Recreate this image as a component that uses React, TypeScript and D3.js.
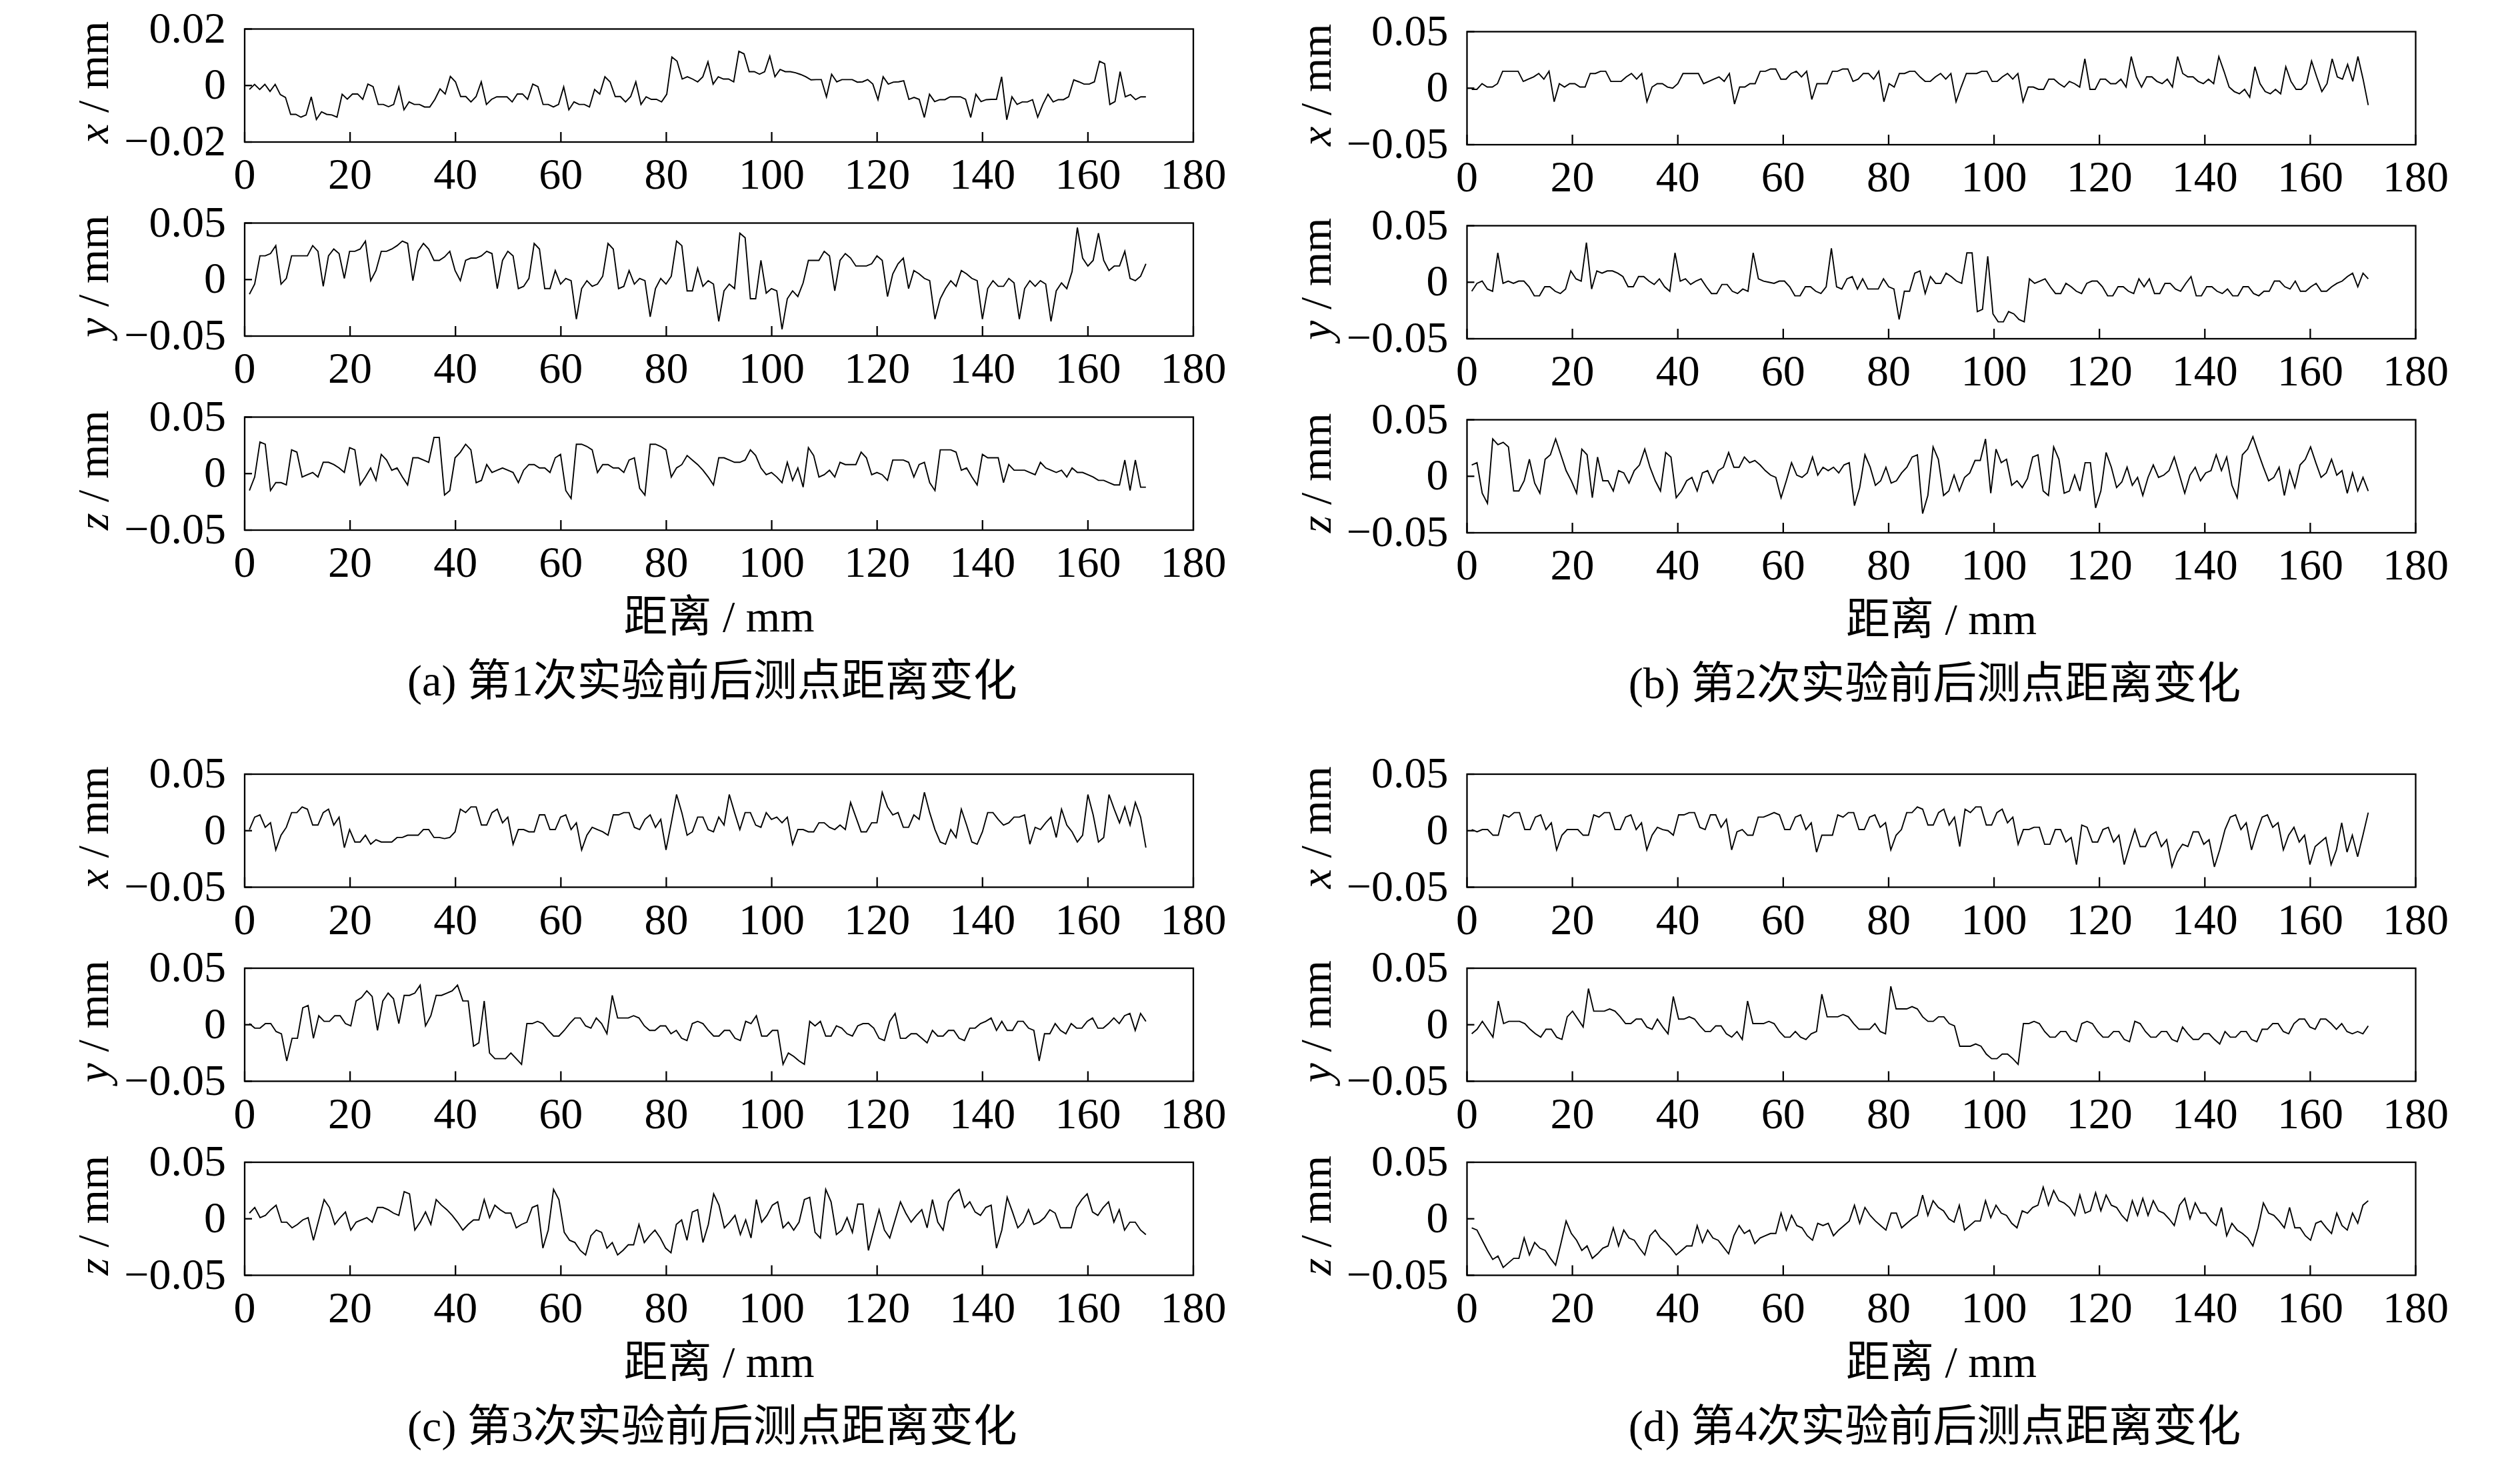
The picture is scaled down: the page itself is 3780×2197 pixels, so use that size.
import React from 'react';
import * as d3 from 'd3';

// sample positions run evenly from the first to the last measuring point (mm)
const sampleStart = 0.9;
const sampleEnd = 171;

const xTicks = [0, 20, 40, 60, 80, 100, 120, 140, 160, 180];
const yTicksNarrow = [-0.02, 0, 0.02];
const yTicksWide = [-0.05, 0, 0.05];
const axisLetters = ['x', 'y', 'z'];
const xAxisTitle = '距离 / mm';
const captions = [
  '(a) 第1次实验前后测点距离变化',
  '(b) 第2次实验前后测点距离变化',
  '(c) 第3次实验前后测点距离变化',
  '(d) 第4次实验前后测点距离变化',
];

// test 1
const test1X = [
  -0.0014, 0.0004, -0.0014, 0.0004, -0.0021, 0.0004, -0.0032, -0.0042, -0.0102, -0.0102,
  -0.0112, -0.0104, -0.0040, -0.0120, -0.0093, -0.0102, -0.0104, -0.0112, -0.0031, -0.0048,
  -0.0030, -0.0030, -0.0049, 0.0005, -0.0004, -0.0067, -0.0067, -0.0075, -0.0067, -0.0005,
  -0.0086, -0.0058, -0.0067, -0.0067, -0.0076, -0.0076, -0.0049, -0.0012, -0.0030, 0.0032,
  0.0013, -0.0039, -0.0039, -0.0058, -0.0039, 0.0013, -0.0067, -0.0049, -0.0040, -0.0040,
  -0.0040, -0.0058, -0.0030, -0.0030, -0.0049, 0.0005, -0.0004, -0.0067, -0.0067, -0.0076,
  -0.0067, -0.0005, -0.0086, -0.0058, -0.0067, -0.0067, -0.0076, -0.0014, -0.0030, 0.0031,
  0.0013, -0.0039, -0.0039, -0.0058, -0.0039, 0.0013, -0.0067, -0.0040, -0.0049, -0.0049,
  -0.0058, -0.0031, 0.0101, 0.0086, 0.0023, 0.0031, 0.0023, 0.0013, 0.0031, 0.0084,
  0.0005, 0.0031, 0.0023, 0.0023,
  0.0013, 0.0121, 0.0112, 0.0049, 0.0049, 0.0040, 0.0049, 0.0104, 0.0031, 0.0057,
  0.0049, 0.0049, 0.0045, 0.0039, 0.0031, 0.0020, 0.0021, 0.0021, -0.0040, 0.0040,
  0.0013, 0.0021, 0.0021, 0.0021, 0.0012, 0.0013, 0.0021, 0.0005, -0.0050, 0.0031,
  0.0005, 0.0012, 0.0013, 0.0017, -0.0049, -0.0042, -0.0049, -0.0113, -0.0031, -0.0057,
  -0.0050, -0.0050, -0.0040, -0.0040, -0.0040, -0.0049, -0.0113, -0.0031, -0.0057, -0.0050,
  -0.0049, -0.0049, 0.0031, -0.0121, -0.0040, -0.0067, -0.0058, -0.0058, -0.0050, -0.0112,
  -0.0067, -0.0031, -0.0058, -0.0050, -0.0050, -0.0040, 0.0020, 0.0013, 0.0005, 0.0005,
  0.0013, 0.0086, 0.0077, -0.0067, -0.0057, 0.0049, -0.0040, -0.0032, -0.0050, -0.0040,
  -0.0040,
];
const test1Y = [
  -0.013, -0.004, 0.021, 0.021, 0.023, 0.030, -0.004, 0.001, 0.021, 0.021,
  0.021, 0.021, 0.030, 0.025, -0.006, 0.021, 0.027, 0.023, 0.001, 0.025,
  0.025, 0.027, 0.034, -0.001, 0.008, 0.025, 0.025, 0.027, 0.030, 0.034,
  0.032, -0.001, 0.025, 0.032, 0.027, 0.017, 0.017, 0.020, 0.025, 0.008,
  -0.001, 0.017, 0.019, 0.019, 0.021, 0.025, 0.023, -0.008, 0.017, 0.025,
  0.021, -0.008, -0.006, 0.001, 0.032, 0.027, -0.008, -0.008, 0.008, -0.004,
  0.001, -0.001, -0.035, -0.008, -0.001, -0.006, -0.004, 0.003, 0.032, 0.027,
  -0.008, -0.006, 0.008, -0.004, 0.001, -0.001, -0.033, -0.008, 0.001, -0.004,
  0.003, 0.034, 0.030, -0.010, -0.010, 0.010, -0.006, -0.001, -0.004, -0.037,
  -0.010, -0.004,
  -0.008, 0.041, 0.037, -0.017, -0.017, 0.017, -0.012, -0.008, -0.010, -0.044,
  -0.017, -0.010, -0.015, -0.003, 0.017, 0.017, 0.017, 0.025, 0.021, -0.010,
  0.017, 0.023, 0.019, 0.012, 0.012, 0.012, 0.014, 0.021, 0.017, -0.015,
  0.005, 0.014, 0.019, -0.008, 0.008, 0.005, 0.001, -0.001, -0.035, -0.017,
  -0.008, -0.001, -0.006, 0.008, 0.005, 0.001, -0.001, -0.035, -0.008, -0.001,
  -0.006, -0.006, 0.001, -0.003, -0.035, -0.008, -0.001, -0.006, -0.001, -0.004,
  -0.037, -0.010, -0.003, -0.008, 0.007, 0.046, 0.019, 0.012, 0.017, 0.041,
  0.017, 0.008, 0.012, 0.012, 0.025, 0.001, -0.001, 0.003, 0.014,
];
const test1Z = [
  -0.015, -0.003, 0.028, 0.026, -0.015, -0.008, -0.008, -0.010, 0.021, 0.019,
  -0.003, -0.001, 0.001, -0.003, 0.010, 0.010, 0.008, 0.005, 0.001, 0.023,
  0.021, -0.010, -0.003, 0.005, -0.006, 0.017, 0.012, 0.003, 0.005, -0.003,
  -0.010, 0.014, 0.014, 0.012, 0.010, 0.032, 0.032, -0.019, -0.015, 0.014,
  0.019, 0.026, 0.021, -0.008, -0.006, 0.008, 0.001, 0.003, 0.005, 0.003,
  0.001, -0.008, 0.003, 0.008, 0.008, 0.005, 0.005, 0.001, 0.014, 0.017,
  -0.015, -0.022, 0.026, 0.026, 0.024, 0.021, 0.001, 0.008, 0.008, 0.005,
  0.005, 0.001, 0.012, 0.014, -0.013, -0.019, 0.026, 0.026, 0.024, 0.021,
  -0.003, 0.005, 0.008, 0.016, 0.012, 0.008, 0.003, -0.003, -0.010, 0.014,
  0.014, 0.012,
  0.010, 0.010, 0.012, 0.021, 0.016, 0.005, -0.001, 0.001, -0.003, -0.008,
  0.010, -0.006, 0.005, -0.012, 0.023, 0.016, -0.003, -0.001, 0.003, -0.003,
  0.010, 0.008, 0.008, 0.008, 0.019, 0.014, -0.001, 0.001, -0.001, -0.006,
  0.012, 0.012, 0.012, 0.010, -0.003, 0.008, 0.010, -0.008, -0.015, 0.021,
  0.021, 0.021, 0.019, 0.003, 0.005, -0.003, -0.010, 0.017, 0.014, 0.014,
  0.014, -0.008, 0.008, 0.003, 0.003, 0.003, 0.001, -0.001, 0.010, 0.005,
  0.003, 0.001, 0.003, -0.003, 0.005, 0.001, 0.001, -0.001, -0.003, -0.006,
  -0.006, -0.008, -0.010, -0.010, 0.012, -0.015, 0.012, -0.012, -0.012,
];

// test 2
const test2X = [
  -0.001, -0.001, 0.004, 0.001, 0.001, 0.004, 0.015, 0.015, 0.015, 0.015,
  0.006, 0.008, 0.010, 0.013, 0.008, 0.015, -0.012, 0.004, 0.001, 0.004,
  0.004, 0.001, 0.001, 0.013, 0.013, 0.015, 0.015, 0.006, 0.006, 0.006,
  0.010, 0.013, 0.008, 0.013, -0.012, 0.001, 0.004, 0.004, 0.001, 0.000,
  0.004, 0.013, 0.013, 0.013, 0.013, 0.004, 0.006, 0.008, 0.010, 0.006,
  0.013, -0.014, 0.001, 0.001, 0.004, 0.004, 0.015, 0.015, 0.017, 0.017,
  0.008, 0.008, 0.013, 0.015, 0.010, 0.015, -0.010, 0.004, 0.004, 0.004,
  0.015, 0.015, 0.017, 0.017, 0.006, 0.008, 0.013, 0.013, 0.008, 0.015,
  -0.012, 0.004, 0.001, 0.013, 0.013, 0.015, 0.015, 0.010, 0.006, 0.006,
  0.010, 0.013, 0.008, 0.013, -0.012,
  0.001, 0.013, 0.013, 0.013, 0.015, 0.015, 0.006, 0.006, 0.010, 0.013,
  0.008, 0.013, -0.012, 0.001, 0.001, -0.001, -0.001, 0.008, 0.008, 0.004,
  0.001, 0.006, 0.004, 0.001, 0.026, -0.001, -0.001, 0.008, 0.008, 0.004,
  0.004, 0.008, 0.001, 0.028, 0.010, 0.001, 0.010, 0.010, 0.006, 0.004,
  0.008, 0.001, 0.028, 0.013, 0.010, 0.010, 0.006, 0.004, 0.008, 0.004,
  0.028, 0.015, 0.001, -0.003, -0.005, -0.001, -0.008, 0.019, 0.004, -0.003,
  -0.005, -0.001, -0.005, 0.019, 0.006, -0.001, -0.001, 0.004, 0.024, 0.010,
  -0.003, 0.004, 0.026, 0.010, 0.008, 0.021, 0.006, 0.028, 0.008, -0.015,
];
const test2Y = [
  -0.008, -0.001, 0.001, -0.006, -0.008, 0.026, -0.001, 0.001, -0.001, 0.001,
  0.001, -0.004, -0.012, -0.012, -0.004, -0.004, -0.008, -0.010, -0.006, 0.010,
  0.003, 0.001, 0.035, -0.006, 0.010, 0.008, 0.010, 0.010, 0.008, 0.005,
  -0.004, -0.004, 0.005, 0.005, 0.001, -0.002, 0.003, -0.004, -0.008, 0.026,
  0.001, 0.003, -0.002, 0.001, 0.003, -0.004, -0.010, -0.010, -0.002, -0.002,
  -0.008, -0.010, -0.006, -0.008, 0.026, 0.003, 0.001, 0.000, -0.001, 0.001,
  0.001, -0.004, -0.012, -0.012, -0.004, -0.004, -0.008, -0.010, -0.004, 0.030,
  -0.004, -0.006, 0.003, 0.005, -0.006, 0.003, -0.006, -0.006, -0.006, 0.003,
  -0.004, -0.006, -0.033, -0.008, -0.008, 0.008, 0.010, -0.010, 0.005, -0.001,
  -0.001, 0.008, 0.005, 0.001, -0.001,
  0.026, 0.026, -0.026, -0.024, 0.023, -0.028, -0.035, -0.035, -0.026, -0.028,
  -0.033, -0.035, 0.003, -0.001, 0.001, 0.003, -0.004, -0.010, -0.010, -0.001,
  -0.004, -0.008, -0.010, -0.001, 0.001, 0.001, -0.004, -0.012, -0.012, -0.004,
  -0.004, -0.008, -0.010, 0.003, -0.004, 0.003, -0.010, -0.010, -0.001, -0.001,
  -0.006, -0.008, -0.001, 0.005, -0.012, -0.012, -0.004, -0.004, -0.008, -0.010,
  -0.006, -0.012, -0.012, -0.004, -0.004, -0.010, -0.012, -0.008, -0.008, 0.001,
  0.001, -0.004, -0.006, 0.001, -0.008, -0.008, -0.004, -0.001, -0.008, -0.008,
  -0.004, -0.001, 0.001, 0.005, 0.008, -0.004, 0.008, 0.003,
];
const test2Z = [
  0.010, 0.012, -0.015, -0.024, 0.033, 0.028, 0.030, 0.026, -0.013, -0.013,
  -0.004, 0.015, -0.006, -0.015, 0.015, 0.019, 0.033, 0.019, 0.005, -0.004,
  -0.015, 0.024, 0.019, -0.019, 0.017, -0.004, -0.004, -0.013, 0.005, 0.003,
  -0.006, 0.005, 0.010, 0.024, 0.008, -0.004, -0.013, 0.021, 0.017, -0.019,
  -0.013, -0.004, -0.001, -0.013, 0.003, 0.005, -0.006, 0.005, 0.008, 0.021,
  0.008, 0.008, 0.017, 0.012, 0.014, 0.010, 0.005, 0.001, -0.001, -0.019,
  -0.004, 0.012, 0.001, -0.001, 0.003, 0.017, 0.001, 0.008, 0.005, 0.008,
  0.003, 0.010, 0.012, -0.026, -0.010, 0.019, 0.008, -0.008, -0.004, 0.008,
  -0.006, -0.004, 0.003, 0.008, 0.017, 0.019, -0.033, -0.017, 0.026, 0.015,
  -0.017, -0.013, 0.001,
  -0.013, -0.001, 0.003, 0.014, 0.014, 0.033, -0.015, 0.024, 0.012, 0.015,
  -0.008, -0.004, -0.010, -0.002, 0.017, 0.019, -0.013, -0.017, 0.026, 0.015,
  -0.015, -0.013, 0.001, -0.013, 0.012, 0.012, -0.028, -0.013, 0.021, 0.008,
  -0.010, -0.005, 0.008, -0.008, -0.001, -0.017, -0.001, 0.010, -0.001, 0.001,
  0.005, 0.017, 0.001, -0.015, 0.001, 0.008, -0.004, 0.003, 0.005, 0.019,
  0.005, 0.017, -0.008, -0.019, 0.019, 0.024, 0.035, 0.021, 0.008, -0.004,
  -0.001, 0.008, -0.017, 0.005, -0.010, 0.010, 0.015, 0.026, 0.012, -0.001,
  0.003, 0.015, 0.001, 0.005, -0.015, 0.003, -0.013, -0.001, -0.013,
];

// test 3
const test3X = [
  0.001, 0.012, 0.014, 0.003, 0.007, -0.017, -0.004, 0.003, 0.016, 0.016,
  0.021, 0.019, 0.005, 0.005, 0.016, 0.019, 0.005, 0.012, -0.015, 0.001,
  -0.010, -0.010, -0.004, -0.012, -0.008, -0.010, -0.010, -0.010, -0.006, -0.006,
  -0.004, -0.004, -0.004, 0.001, 0.001, -0.006, -0.006, -0.007, -0.006, -0.001,
  0.019, 0.016, 0.021, 0.021, 0.005, 0.005, 0.016, 0.019, 0.007, 0.012,
  -0.012, 0.001, 0.001, -0.001, -0.001, 0.014, 0.014, 0.001, 0.001, 0.012,
  0.014, 0.001, 0.007, -0.017, -0.004, 0.003, 0.001, -0.001, -0.004, 0.014,
  0.014, 0.016, 0.016, 0.003, 0.001, 0.010, 0.014, 0.003, 0.010, -0.017,
  0.007, 0.032, 0.016, -0.004, -0.001, 0.012, 0.012, 0.001, -0.001, 0.012,
  0.005,
  0.032, 0.016, 0.001, 0.016, 0.016, 0.005, 0.003, 0.016, 0.010, 0.012,
  0.007, 0.012, -0.012, 0.001, 0.001, -0.001, -0.001, 0.007, 0.007, 0.003,
  0.001, 0.005, 0.001, 0.025, 0.012, -0.001, -0.001, 0.007, 0.007, 0.034,
  0.021, 0.014, 0.016, 0.003, 0.003, 0.014, 0.010, 0.034, 0.016, 0.001,
  -0.010, -0.012, 0.001, -0.006, 0.019, 0.005, -0.010, -0.012, -0.001, 0.016,
  0.016, 0.010, 0.005, 0.007, 0.012, 0.012, 0.014, -0.012, 0.003, 0.001,
  0.007, 0.012, -0.006, 0.019, 0.005, -0.001, -0.010, -0.004, 0.032, 0.014,
  -0.010, -0.006, 0.032, 0.019, 0.007, 0.021, 0.005, 0.025, 0.012, -0.015,
];
const test3Y = [
  0.001, -0.003, -0.003, 0.001, 0.001, -0.006, -0.008, -0.032, -0.012, -0.012,
  0.015, 0.017, -0.012, 0.008, 0.003, 0.003, 0.008, 0.008, 0.001, -0.001,
  0.021, 0.024, 0.030, 0.025, -0.005, 0.021, 0.028, 0.023, 0.001, 0.026,
  0.026, 0.028, 0.035, -0.001, 0.008, 0.026, 0.026, 0.028, 0.030, 0.035,
  0.021, 0.021, -0.019, -0.016, 0.021, -0.025, -0.030, -0.030, -0.030, -0.025,
  -0.030, -0.035, 0.001, 0.001, 0.003, 0.001, -0.005, -0.010, -0.010, -0.005,
  0.001, 0.006, 0.006, -0.001, -0.003, 0.006, 0.001, -0.008, 0.026, 0.006,
  0.006, 0.006, 0.008, 0.006, -0.001, -0.005, -0.005, -0.001, -0.001, -0.008,
  -0.005, -0.012, -0.014, 0.001, 0.003, 0.001, -0.005, -0.010, -0.010, -0.005,
  -0.005,
  -0.012, -0.014, 0.003, 0.001, 0.008, -0.010, -0.010, -0.005, -0.005, -0.035,
  -0.025, -0.028, -0.032, -0.035, 0.003, -0.001, 0.003, -0.010, -0.010, -0.001,
  -0.003, -0.008, -0.010, -0.001, 0.001, 0.001, -0.003, -0.012, -0.014, 0.003,
  0.010, -0.012, -0.012, -0.008, -0.008, -0.012, -0.016, -0.005, -0.010, -0.010,
  -0.005, -0.005, -0.012, -0.014, -0.003, -0.003, 0.001, 0.003, 0.006, -0.005,
  0.003, -0.005, -0.005, 0.003, 0.003, -0.003, -0.005, -0.032, -0.008, -0.008,
  0.001, -0.005, -0.008, 0.001, -0.003, -0.003, 0.003, 0.006, -0.003, -0.003,
  0.001, 0.006, 0.001, 0.008, 0.010, -0.005, 0.010, 0.003,
];
const test3Z = [
  0.005, 0.010, 0.001, 0.003, 0.008, 0.012, -0.003, -0.003, -0.008, -0.005,
  -0.001, 0.001, -0.019, -0.001, 0.017, 0.010, -0.005, 0.001, 0.006, -0.010,
  -0.003, -0.001, 0.001, -0.003, 0.010, 0.010, 0.008, 0.005, 0.003, 0.024,
  0.022, -0.010, -0.003, 0.006, -0.005, 0.017, 0.012, 0.008, 0.003, -0.003,
  -0.010, -0.005, -0.001, -0.001, 0.017, 0.001, 0.012, 0.008, 0.005, 0.005,
  -0.008, -0.005, -0.003, 0.010, 0.012, -0.026, -0.010, 0.026, 0.017, -0.012,
  -0.019, -0.021, -0.028, -0.032, -0.015, -0.010, -0.012, -0.026, -0.021, -0.032,
  -0.028, -0.023, -0.023, -0.005, -0.021, -0.015, -0.010, -0.017, -0.026, -0.030,
  -0.005, -0.001, -0.019, 0.006, 0.008, -0.021, -0.005, 0.022, 0.012, -0.008,
  -0.003,
  0.003, -0.014, -0.001, -0.017, 0.017, -0.003, 0.003, 0.012, 0.015, -0.008,
  -0.003, -0.010, -0.003, 0.017, 0.019, -0.012, -0.017, 0.026, 0.015, -0.014,
  -0.010, 0.001, -0.012, 0.013, 0.013, -0.028, -0.010, 0.008, -0.010, -0.017,
  -0.001, 0.015, 0.005, -0.003, 0.003, 0.008, -0.008, 0.017, -0.003, -0.010,
  0.015, 0.022, 0.026, 0.010, 0.015, 0.006, 0.003, 0.010, 0.012, -0.026,
  -0.010, 0.019, 0.006, -0.008, -0.003, 0.008, -0.005, -0.003, 0.001, 0.008,
  0.005, -0.008, -0.008, -0.008, 0.010, 0.017, 0.022, 0.006, 0.003, 0.010,
  0.015, -0.003, 0.008, -0.010, -0.003, -0.003, -0.010, -0.014,
];

// test 4
const test4X = [
  0.001, -0.001, 0.001, 0.001, -0.004, -0.004, 0.014, 0.012, 0.016, 0.016,
  0.001, 0.001, 0.012, 0.014, 0.001, 0.007, -0.017, -0.004, 0.001, 0.001,
  0.001, -0.004, -0.004, 0.014, 0.012, 0.016, 0.016, 0.001, 0.001, 0.012,
  0.014, 0.001, 0.007, -0.017, -0.004, 0.003, 0.001, 0.000, -0.004, 0.014,
  0.014, 0.016, 0.016, 0.003, 0.001, 0.014, 0.014, 0.003, 0.010, -0.017,
  -0.001, 0.001, -0.004, -0.004, 0.012, 0.012, 0.014, 0.016, 0.014, 0.001,
  0.001, 0.012, 0.014, 0.001, 0.007, -0.019, -0.004, -0.004, -0.004, 0.014,
  0.012, 0.016, 0.016, 0.001, 0.001, 0.012, 0.014, 0.003, 0.007, -0.017,
  -0.004, 0.001, 0.016, 0.016, 0.021, 0.019, 0.005, 0.005, 0.016, 0.019,
  0.005, 0.012, -0.014,
  0.019, 0.016, 0.021, 0.021, 0.005, 0.005, 0.016, 0.019, 0.007, 0.012,
  -0.012, 0.001, 0.001, 0.003, 0.003, -0.012, -0.012, 0.001, 0.001, -0.010,
  -0.006, -0.030, 0.005, 0.003, -0.010, -0.010, 0.001, 0.003, -0.010, -0.004,
  -0.030, -0.014, 0.001, -0.014, -0.014, -0.004, -0.001, -0.014, -0.008, -0.032,
  -0.019, -0.012, -0.014, -0.001, -0.001, -0.012, -0.008, -0.032, -0.017, 0.001,
  0.012, 0.014, 0.001, 0.007, -0.017, -0.001, 0.012, 0.014, 0.003, 0.007,
  -0.017, -0.004, 0.003, -0.010, -0.004, -0.030, -0.014, -0.010, -0.006, -0.030,
  -0.017, 0.007, -0.019, -0.004, -0.023, -0.004, 0.016,
];
const test4Y = [
  -0.008, -0.004, 0.003, -0.004, -0.011, 0.021, 0.001, 0.003, 0.003, 0.003,
  0.001, -0.004, -0.008, -0.011, -0.004, -0.004, -0.011, -0.013, 0.007, 0.012,
  0.005, -0.002, 0.032, 0.012, 0.012, 0.012, 0.014, 0.012, 0.007, 0.001,
  0.001, 0.005, 0.005, -0.002, -0.004, 0.005, -0.002, -0.008, 0.025, 0.005,
  0.005, 0.007, 0.005, -0.001, -0.006, -0.006, -0.001, -0.001, -0.008, -0.011,
  -0.006, -0.013, 0.021, 0.001, 0.001, 0.001, 0.003, 0.001, -0.006, -0.011,
  -0.011, -0.006, -0.011, -0.013, -0.008, -0.006, 0.027, 0.007, 0.007, 0.007,
  0.009, 0.007, 0.001, -0.004, -0.004, -0.004, 0.001, -0.006, -0.008, 0.034,
  0.014, 0.014, 0.014, 0.016, 0.014, 0.007, 0.003, 0.003, 0.007, 0.007,
  0.001, -0.001,
  -0.019, -0.019, -0.019, -0.017, -0.019, -0.026, -0.030, -0.030, -0.026, -0.026,
  -0.030, -0.035, 0.001, 0.001, 0.003, 0.001, -0.006, -0.011, -0.011, -0.006,
  -0.006, -0.013, -0.015, 0.001, 0.003, 0.001, -0.006, -0.011, -0.011, -0.006,
  -0.006, -0.013, -0.015, 0.003, 0.001, -0.006, -0.011, -0.011, -0.006, -0.006,
  -0.013, -0.015, -0.002, -0.008, -0.013, -0.013, -0.008, -0.008, -0.013, -0.017,
  -0.006, -0.011, -0.011, -0.006, -0.006, -0.013, -0.015, -0.004, -0.004, 0.001,
  0.001, -0.006, -0.008, 0.001, 0.005, 0.005, -0.002, -0.004, 0.005, 0.005,
  0.001, -0.004, 0.001, -0.006, -0.008, -0.006, -0.008, -0.001,
];
const test4Z = [
  -0.008, -0.010, -0.019, -0.028, -0.036, -0.033, -0.043, -0.039, -0.035, -0.035,
  -0.017, -0.032, -0.021, -0.026, -0.028, -0.035, -0.041, -0.022, -0.002, -0.013,
  -0.019, -0.028, -0.024, -0.035, -0.031, -0.026, -0.024, -0.008, -0.024, -0.010,
  -0.017, -0.019, -0.026, -0.032, -0.015, -0.010, -0.017, -0.021, -0.026, -0.032,
  -0.028, -0.024, -0.024, -0.006, -0.021, -0.010, -0.017, -0.019, -0.025, -0.031,
  -0.015, -0.006, -0.013, -0.010, -0.022, -0.017, -0.015, -0.013, -0.013, 0.005,
  -0.010, 0.003, -0.006, -0.008, -0.015, -0.019, -0.004, -0.006, -0.004, -0.015,
  -0.010, -0.006, -0.002, 0.012, -0.004, 0.010, 0.003, -0.002, -0.006, -0.010,
  0.005, 0.005, -0.008, -0.004, 0.000, 0.003, 0.021, 0.003, 0.016, 0.010,
  0.007, 0.000, -0.003, 0.012,
  -0.010, -0.006, -0.002, -0.002, 0.016, 0.001, 0.012, 0.005, 0.003, -0.004,
  -0.008, 0.007, 0.005, 0.010, 0.012, 0.028, 0.012, 0.025, 0.016, 0.014,
  0.010, 0.003, 0.021, 0.005, 0.007, 0.023, 0.007, 0.021, 0.012, 0.010,
  0.003, -0.002, 0.016, 0.003, 0.018, 0.003, 0.016, 0.007, 0.005, 0.000,
  -0.006, 0.012, 0.018, 0.000, 0.014, 0.005, 0.005, -0.002, -0.006, 0.010,
  -0.015, -0.004, -0.010, -0.013, -0.017, -0.024, -0.008, 0.014, 0.005, 0.003,
  -0.002, -0.008, 0.010, -0.008, -0.008, -0.015, -0.019, -0.004, -0.002, -0.008,
  -0.013, 0.005, -0.006, -0.010, 0.005, -0.004, 0.012, 0.016,
];

const tests = [
  [test1X, test1Y, test1Z],
  [test2X, test2Y, test2Z],
  [test3X, test3Y, test3Z],
  [test4X, test4Y, test4Z],
];
// y range of each row, per test
const yTickSets = [
  [yTicksNarrow, yTicksWide, yTicksWide],
  [yTicksWide, yTicksWide, yTicksWide],
  [yTicksWide, yTicksWide, yTicksWide],
  [yTicksWide, yTicksWide, yTicksWide],
];

// page layout (px)
const W = 3780;
const H = 2197;
const PLOT_W = 1423;
const PLOT_H = 169.5;
const ROW_STEP = 291;
const FS = 66;
const FONT = '"Liberation Serif", "Times New Roman", "Noto Sans CJK SC", serif';
const panelOrigins = [
  { left: 367, top: 43.5 },
  { left: 2200.5, top: 47.5 },
  { left: 367, top: 1161 },
  { left: 2200.5, top: 1161 },
];

const fmtY = (v: number) => (v === 0 ? '0' : (v < 0 ? '\u2212' : '') + Math.abs(v).toFixed(2));

const Row = ({ left, top, values, ticks, letter }: any) => {
  const bottom = top + PLOT_H;
  const x = d3.scaleLinear().domain([0, 180]).range([left, left + PLOT_W]);
  const y = d3.scaleLinear().domain([ticks[0], ticks[2]]).range([bottom, top]);
  const pos = d3.scaleLinear().domain([0, values.length - 1]).range([sampleStart, sampleEnd]);
  const path = d3.line<number>()
    .x((_, i) => x(pos(i)))
    .y(d => y(d))(values);

  return (
    <g>
      <path d={path ?? ''} fill="none" stroke="#000" strokeWidth={1.9} strokeLinejoin="miter" />
      <rect x={left} y={top} width={PLOT_W} height={PLOT_H} fill="none" stroke="#000" strokeWidth={2.3} />
      {xTicks.map(t => (
        <g key={t}>
          <line x1={x(t)} x2={x(t)} y1={bottom} y2={bottom - 15} stroke="#000" strokeWidth={2.3} />
          <text x={x(t)} y={bottom + 70} textAnchor="middle">{t}</text>
        </g>
      ))}
      {ticks.map((t: number) => (
        <g key={t}>
          <line x1={left} x2={left + 11} y1={y(t)} y2={y(t)} stroke="#000" strokeWidth={2.3} />
          <text x={left - 28} y={y(t) + 20} textAnchor="end">{fmtY(t)}</text>
        </g>
      ))}
      <text transform={`translate(${left - 205},${(top + bottom) / 2 - 5}) rotate(-90)`} textAnchor="middle">
        <tspan fontStyle="italic">{letter}</tspan>{' / mm'}
      </text>
    </g>
  );
};

const App = () => (
  <svg
    width={W}
    height={H}
    viewBox={`0 0 ${W} ${H}`}
    style={{ position: 'absolute', left: 0, top: 0, background: '#fff' }}
    fontFamily={FONT}
    fontSize={FS}
    fill="#000"
  >
    <rect width={W} height={H} fill="#fff" />
    {tests.map((rows, p) => {
      const { left, top } = panelOrigins[p];
      const lastBottom = top + 2 * ROW_STEP + PLOT_H;
      const cx = left + PLOT_W / 2;
      return (
        <g key={p}>
          {rows.map((values, r) => (
            <Row
              key={r}
              left={left}
              top={top + r * ROW_STEP}
              values={values}
              ticks={yTickSets[p][r]}
              letter={axisLetters[r]}
            />
          ))}
          <text x={cx} y={lastBottom + 152} textAnchor="middle">{xAxisTitle}</text>
          <text x={cx - 10} y={lastBottom + 248} textAnchor="middle">{captions[p]}</text>
        </g>
      );
    })}
  </svg>
);

export default App;
